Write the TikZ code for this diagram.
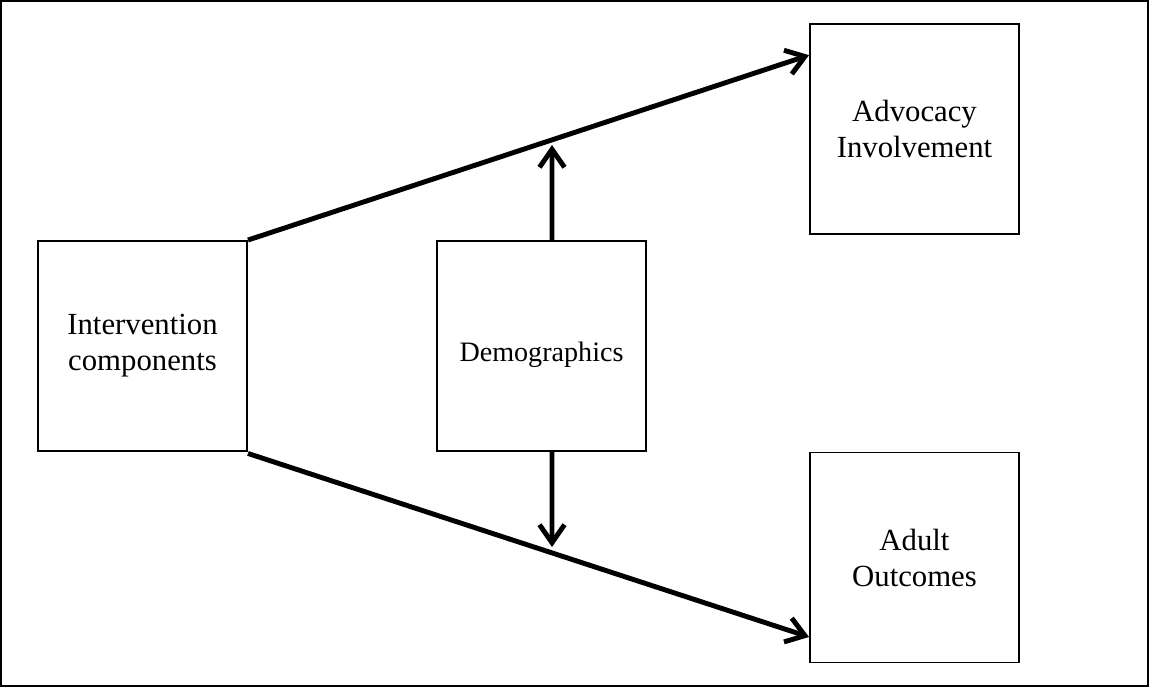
\documentclass[tikz,border=0pt]{standalone}
\usepackage{fontspec}
\setmainfont{Liberation Serif}
\usetikzlibrary{arrows.meta}
\tikzset{
 epais/.style={line width=2.8pt},
 fin/.style={line width=1.1pt},
 boite/.style={draw, fin, minimum width=4.18cm, minimum height=4.2cm,
  align=center, inner sep=0pt, font=\fontsize{17.5}{20.5}\selectfont},
 fleche/.style={epais, -{Straight Barb[length=0.36cm, width=0.5cm, line width=2.8pt]}}
}

\begin{document}
\begin{tikzpicture}[x=0.02cm, y=-0.02cm]
%Frame
	\useasboundingbox (0,0) rectangle (1149,687);
	\draw[fin] (1,1) rectangle (1148,686);
%The boxes
	\node[boite] (int) at (142.5,346) {Intervention\\components};
	\node[boite, font=\fontsize{16}{19}\selectfont] (dem) at (541.5,346) {\raisebox{-0.18cm}[\height][\depth]{Demographics}};
	\node[boite] (adv) at (914.5,129) {Advocacy\\Involvement};
	\node[boite] (adu) at (914.5,557.5) {Adult\\Outcomes};
%Ends of the small arrows
	\coordinate (haut) at (552,145);
	\coordinate (bas) at (552,547);
%Main links
	\draw[fleche] (int.north east) -- (adv.145);
	\draw[fleche] ([yshift=-0.03cm]int.south east) -- (adu.217);
%Demographics
	\draw[fleche] ([xshift=0.21cm]dem.north) -- (haut);
	\draw[fleche] ([xshift=0.21cm]dem.south) -- (bas);
\end{tikzpicture}
\end{document}
